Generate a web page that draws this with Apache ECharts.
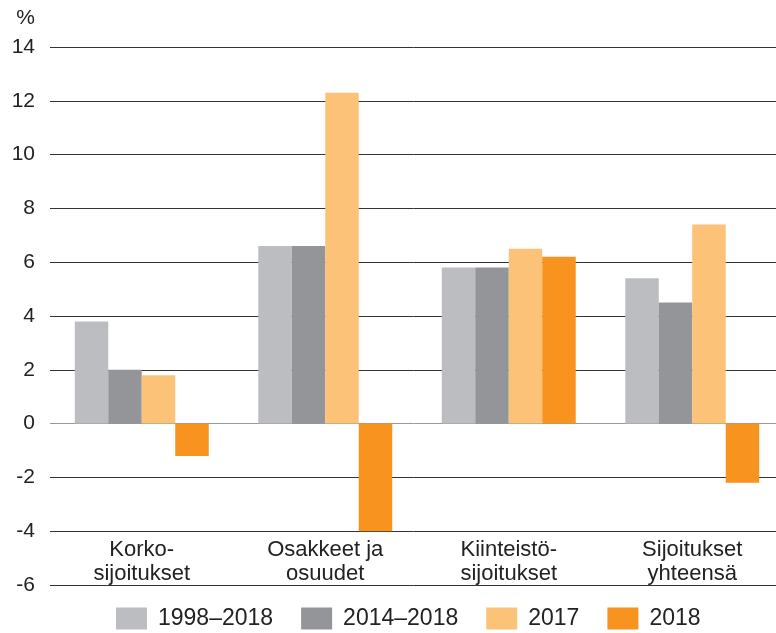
<!DOCTYPE html>
<html>
<head>
<meta charset="utf-8">
<script src="https://cdn.jsdelivr.net/npm/echarts@6/dist/echarts.min.js"></script>
<style>
	html, body { margin: 0; padding: 0; background: #fff; }
	#chart { width: 776px; height: 633px; }
</style>
</head>
<body>
<div id="chart"></div>
<script>
// categories on the x axis
var categories = ['Korko-\nsijoitukset', 'Osakkeet ja\nosuudet', 'Kiinteistö-\nsijoitukset', 'Sijoitukset\nyhteensä'];
// returns, %
var r1998_2018 = [3.8, 6.6, 5.8, 5.4];
var r2014_2018 = [2.0, 6.6, 5.8, 4.5];
var r2017 = [1.8, 12.3, 6.5, 7.4];
var r2018 = [-1.2, -4.0, 6.2, -2.2];
var seriesNames = ['1998–2018', '2014–2018', '2017', '2018'];
var colors = ['#bcbdc1', '#939598', '#fbc278', '#f7931e'];

var font = '"Liberation Sans", Arial, sans-serif';
var chart = echarts.init(document.getElementById('chart'));

function bar(name, data, color) {
	return {
		name: name,
		type: 'bar',
		data: data,
		barGap: '0%',
		barCategoryGap: '27%',
		itemStyle: { color: color },
		emphasis: { disabled: true }
	};
}

// split line colours: zero line lighter
var lineColors = ['#333', '#333', '#333', '#999', '#333', '#333', '#333', '#333', '#333', '#333', '#333'];

chart.setOption({
	animation: false,
	color: colors,
	textStyle: { fontFamily: font },
	grid: { left: 50, width: 734, top: 47, bottom: 48, outerBoundsMode: 'none' },
	legend: {
		top: 607,
		left: 116,
		padding: 0,
		itemWidth: 31,
		itemHeight: 22,
		itemGap: 28,
		icon: 'rect',
		textStyle: { fontSize: 23, color: '#222', fontFamily: font, padding: [0, 0, 0, 6] },
		data: seriesNames
	},
	xAxis: {
		type: 'category',
		data: categories,
		axisLine: { show: false },
		axisTick: { show: false },
		axisLabel: {
			margin: -47,
			fontSize: 22,
			lineHeight: 24,
			color: '#222',
			fontFamily: font
		}
	},
	yAxis: {
		type: 'value',
		min: -6,
		max: 14,
		interval: 2,
		name: '%',
		nameGap: 18,
		nameTextStyle: { fontSize: 21, color: '#222', align: 'right', padding: [0, 15, 0, 0], fontFamily: font },
		axisLine: { show: false },
		axisTick: { show: false },
		axisLabel: { margin: 15, fontSize: 21, color: '#222', fontFamily: font },
		splitLine: { lineStyle: { color: lineColors, width: 1 } }
	},
	series: [
		bar(seriesNames[0], r1998_2018, colors[0]),
		bar(seriesNames[1], r2014_2018, colors[1]),
		bar(seriesNames[2], r2017, colors[2]),
		bar(seriesNames[3], r2018, colors[3])
	]
});
</script>
</body>
</html>
